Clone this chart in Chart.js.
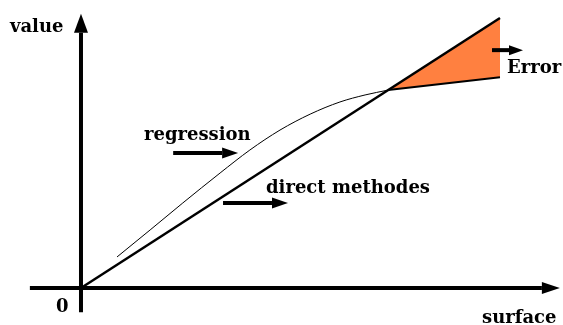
<!DOCTYPE html>
<html>
<head>
<meta charset="utf-8">
<script src="https://cdn.jsdelivr.net/npm/chart.js@4.4.1/dist/chart.umd.min.js"></script>
<style>
  html, body { margin: 0; padding: 0; background: #fff; }
  #wrap { width: 563px; height: 325px; }
</style>
</head>
<body>
<div id="wrap"><canvas id="chart"></canvas></div>
<script>
// surface -> value, in arbitrary units (origin at 0,0)
const directX = [0, 10];
const directY = [0, 10];

const regressionX = [0.86, 1.65, 2.43, 3.32, 4.03, 4.75, 5.47, 6.18, 6.78, 7.33];
const regressionY = [1.15, 2.15, 3.15, 4.26, 5.11, 5.85, 6.44, 6.89, 7.15, 7.33];

// the error wedge: direct line above, flattened regression below
const errorX = [7.33, 10];
const errorUpperY = [7.33, 10];
const errorLowerY = [7.33, 7.81];

const axisLabels = { x: "surface", y: "value", origin: "0" };
const curveLabels = ["regression", "direct methodes", "Error"];

function pts(xs, ys) {
    return xs.map((x, i) => ({ x: x, y: ys[i] }));
}

const FONT = "bold 18px 'DejaVu Serif'";

function arrow(ctx, x1, y1, x2, y2, width, head, headW) {
    const a = Math.atan2(y2 - y1, x2 - x1);
    const bx = x2 - head * Math.cos(a);
    const by = y2 - head * Math.sin(a);
    ctx.lineWidth = width;
    ctx.beginPath();
    ctx.moveTo(x1, y1);
    ctx.lineTo(bx, by);
    ctx.stroke();
    ctx.beginPath();
    ctx.moveTo(x2, y2);
    ctx.lineTo(bx + headW * Math.sin(a), by - headW * Math.cos(a));
    ctx.lineTo(bx - headW * Math.sin(a), by + headW * Math.cos(a));
    ctx.closePath();
    ctx.fill();
}

const sketch = {
    id: "sketch",
    afterDatasetsDraw(chart) {
        const ctx = chart.ctx;
        const xs = chart.scales.x;
        const ys = chart.scales.y;
        const px = (v) => xs.getPixelForValue(v);
        const py = (v) => ys.getPixelForValue(v);
        ctx.save();
        ctx.strokeStyle = "#000";
        ctx.fillStyle = "#000";
        ctx.lineCap = "butt";

        // axes
        arrow(ctx, px(-1.22), py(0), px(11.43), py(0), 4, 18, 6);
        arrow(ctx, px(0), py(-0.9), px(0), py(10.16), 4, 19, 7);

        // pointer arrows next to the labels
        arrow(ctx, px(2.2), py(5.0), px(3.75), py(5.0), 4, 16, 5.5);
        arrow(ctx, px(3.39), py(3.15), px(4.94), py(3.15), 4, 16, 5.5);
        arrow(ctx, px(9.81), py(8.81), px(10.55), py(8.81), 4, 14, 5);

        ctx.font = FONT;
        ctx.textBaseline = "alphabetic";
        ctx.textAlign = "left";
        ctx.fillText(axisLabels.y, 10, 32);
        ctx.fillText(axisLabels.origin, 56, 312);
        ctx.fillText(axisLabels.x, 482, 323);
        ctx.fillText(curveLabels[0], 144, 140);
        ctx.fillText(curveLabels[1], 266, 193);
        ctx.fillText(curveLabels[2], 507, 73);
        ctx.restore();
    }
};

new Chart(document.getElementById("chart"), {
    type: "line",
    data: {
        datasets: [
            {
                label: "error",
                data: pts(errorX, errorUpperY),
                borderWidth: 0,
                pointRadius: 0,
                backgroundColor: "rgb(255,128,64)",
                fill: { target: 1 },
                order: 3,
            },
            {
                label: "error lower",
                data: pts(errorX, errorLowerY),
                borderColor: "#000",
                borderWidth: 2,
                pointRadius: 0,
                fill: false,
                order: 1,
            },
            {
                label: "direct methodes",
                data: pts(directX, directY),
                borderColor: "#000",
                borderWidth: 2.5,
                pointRadius: 0,
                fill: false,
                order: 1,
            },
            {
                label: "regression",
                data: pts(regressionX, regressionY),
                borderColor: "#000",
                borderWidth: 1,
                pointRadius: 0,
                cubicInterpolationMode: "monotone",
                fill: false,
                order: 1,
            },
        ]
    },
    options: {
        responsive: true,
        maintainAspectRatio: false,
        animation: false,
        layout: { padding: 0 },
        scales: {
            x: { type: "linear", min: -1.933, max: 11.504, display: false },
            y: { type: "linear", min: -1.370, max: 10.667, display: false },
        },
        plugins: {
            legend: { display: false },
            tooltip: { enabled: false },
        }
    },
    plugins: [sketch]
});
</script>
</body>
</html>
